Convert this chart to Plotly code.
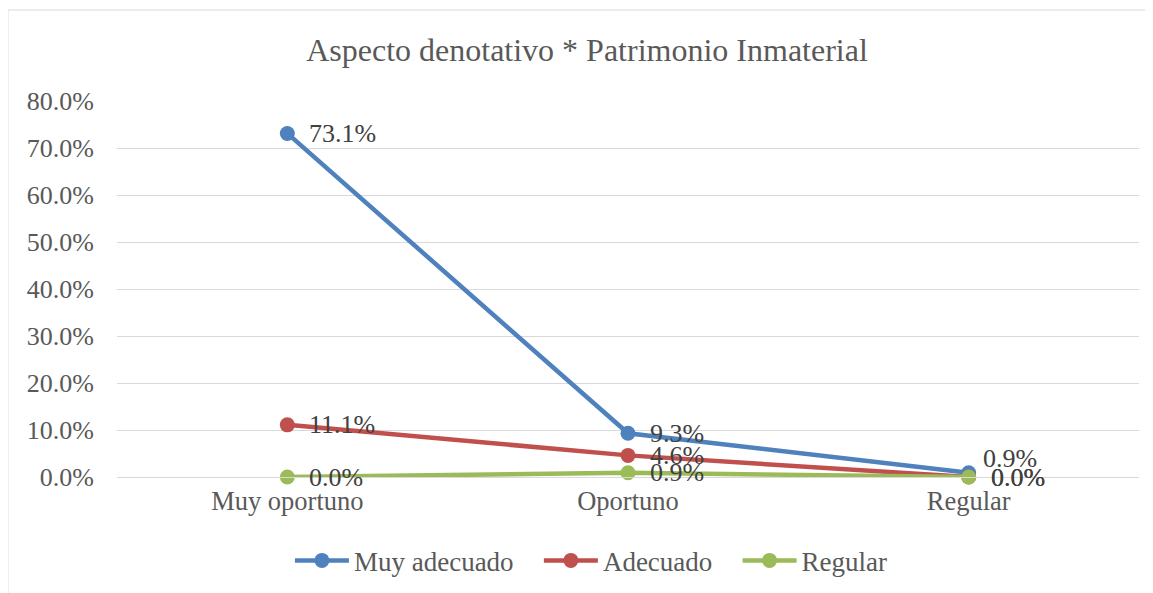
import plotly.graph_objects as go

categories = ["Muy oportuno", "Oportuno", "Regular"]
series_names = ["Muy adecuado", "Adecuado", "Regular"]
muy_adecuado = [73.1, 9.3, 0.9]
adecuado = [11.1, 4.6, 0.0]
regular = [0.0, 0.9, 0.0]
series_values = [muy_adecuado, adecuado, regular]
colors = ["#4F81BD", "#C0504D", "#9BBB59"]
y_ticks = [0, 10, 20, 30, 40, 50, 60, 70, 80]

FONT = "Liberation Serif, Times New Roman, serif"

fig = go.Figure()
for name, vals, col in zip(series_names, series_values, colors):
    fig.add_trace(go.Scatter(
        x=categories, y=vals, name=name + "\u00a0\u00a0\u00a0", mode="lines+markers",
        line=dict(color=col, width=4.5),
        marker=dict(color=col, size=15),
        cliponaxis=False,
    ))

# data labels (right of each point; the last blue one sits above-right)
for si, vals in enumerate(series_values):
    for ci, (cat, v) in enumerate(zip(categories, vals)):
        special = (si == 0 and ci == 2)
        fig.add_annotation(
            x=cat, y=v, xref="x", yref="y", text=f"{v:.1f}%",
            showarrow=False, xanchor="left", yanchor="middle",
            xshift=12 if special else 20, yshift=14 if special else 0,
            font=dict(family=FONT, size=26, color="#404040"),
        )

fig.update_layout(
    width=1145, height=585,
    margin=dict(l=109, r=14, t=93, b=116, autoexpand=False),
    paper_bgcolor="white", plot_bgcolor="white",
    font=dict(family=FONT, size=26, color="#595959"),
    title=dict(text="Aspecto denotativo * Patrimonio Inmaterial",
               x=579 / 1145, xanchor="center", xref="container",
               y=1 - 42 / 585, yanchor="middle", yref="container",
               font=dict(family=FONT, size=32, color="#595959")),
    xaxis=dict(range=[-0.5, 2.5], showgrid=False, showline=True,
               linecolor="#d9d9d9", linewidth=1, ticks="", zeroline=False,
               automargin=False,
               tickfont=dict(family=FONT, size=26.5, color="#595959")),
    yaxis=dict(range=[0, 80], tickvals=y_ticks,
               ticktext=[f"{t:.1f}%" for t in y_ticks],
               showgrid=True, gridcolor="#d9d9d9", gridwidth=1,
               zeroline=False, showline=False, ticks="",
               ticklabelstandoff=22, automargin=False,
               tickfont=dict(family=FONT, size=26, color="#595959")),
    legend=dict(orientation="h", x=0.474, xanchor="center",
                y=-0.223, yanchor="middle",
                font=dict(family=FONT, size=27, color="#595959"),
                itemwidth=54, tracegroupgap=0),
    showlegend=True,
)
fig.add_shape(type="rect", xref="paper", yref="paper",
              x0=(0 - 109) / 1021.5, x1=(1139 - 109) / 1021.5,
              y0=(469 - 600) / 376, y1=(469 - 2) / 376,
              line=dict(color="#d9d9d9", width=1), fillcolor="rgba(0,0,0,0)",
              layer="below")

fig.write_html("out.html")
